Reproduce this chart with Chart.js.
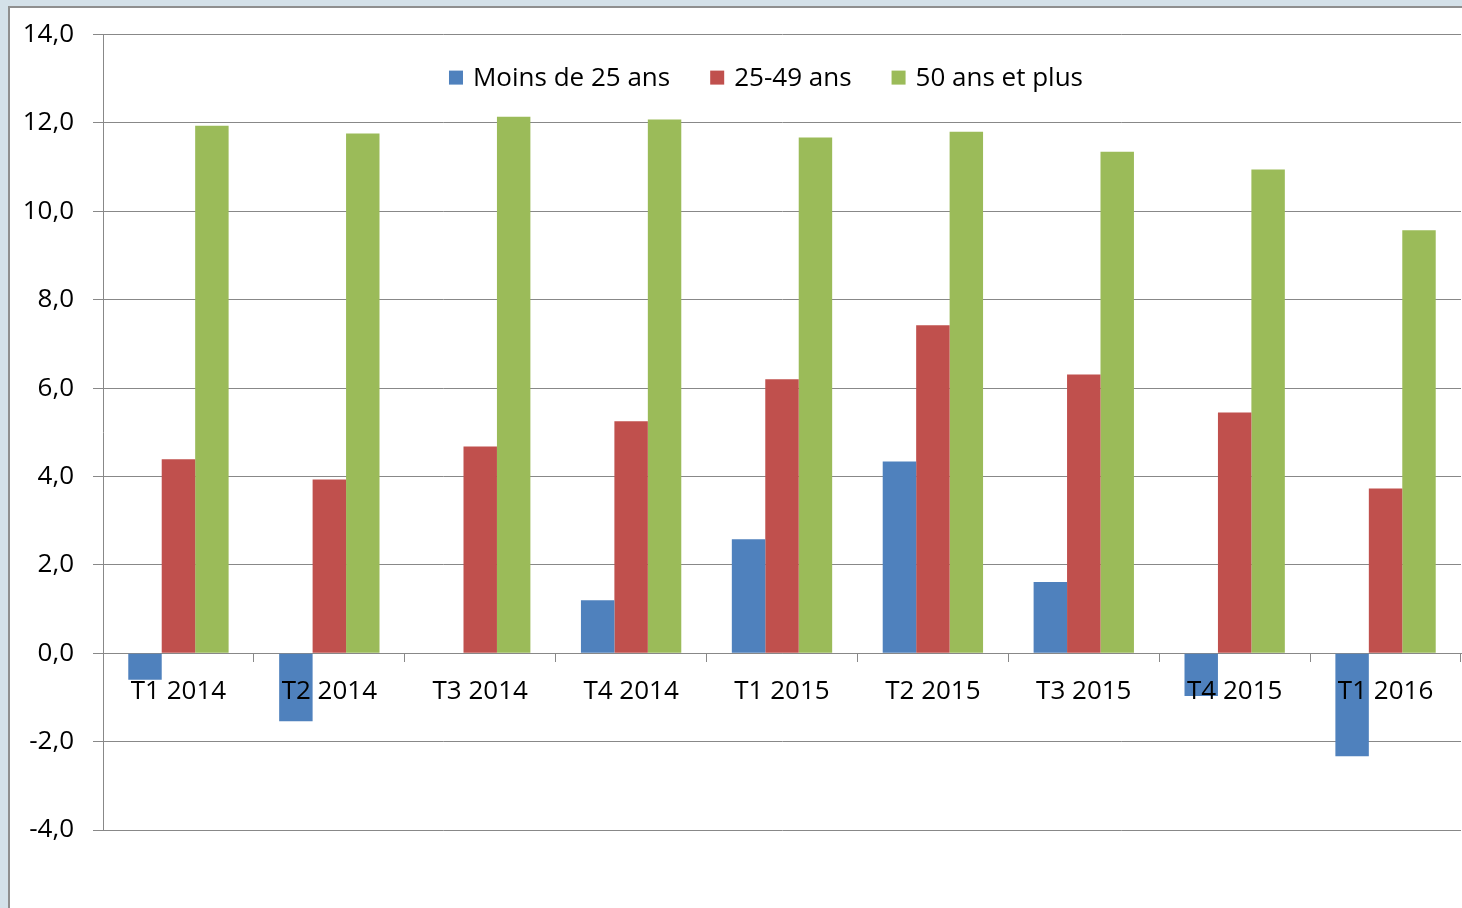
<!DOCTYPE html>
<html>
<head>
<meta charset="utf-8">
<script src="https://cdn.jsdelivr.net/npm/chart.js@4/dist/chart.umd.min.js"></script>
<style>
  html, body { margin: 0; padding: 0; }
  body { width: 1462px; height: 908px; background: #d4e1e9; overflow: hidden; position: relative; }
  #frame { position: absolute; left: 8px; top: 6px; right: 0; bottom: 0; background: #fff;
           border-left: 2px solid #8f8f8f; border-top: 2px solid #8f8f8f; }
  #chart { position: absolute; left: 0; top: 0; }
</style>
</head>
<body>
<div id="frame"></div>
<canvas id="chart" width="1462" height="908"></canvas>
<script>
// quarters (x categories)
var quarters = ['T1 2014', 'T2 2014', 'T3 2014', 'T4 2014', 'T1 2015', 'T2 2015', 'T3 2015', 'T4 2015', 'T1 2016'];

// series
var moins25 = [-0.6, -1.54, 0, 1.2, 2.58, 4.34, 1.61, -0.97, -2.33];
var de25a49 = [4.39, 3.93, 4.68, 5.25, 6.2, 7.42, 6.31, 5.45, 3.73];
var plus50 = [11.94, 11.76, 12.14, 12.08, 11.67, 11.8, 11.35, 10.95, 9.57];

var seriesNames = ['Moins de 25 ans', '25-49 ans', '50 ans et plus'];

// y axis ticks
var yMin = -4;
var yMax = 14;
var yStep = 2;

var gridColor = '#888888';
var fontFamily = '"Open Sans", "DejaVu Sans", sans-serif';

// legend drawn in a single row inside the plot area, like the Excel original
var inAreaLegend = {
  id: 'inAreaLegend',
  afterDraw: function (chart) {
    var c = chart.ctx;
    var area = chart.chartArea;
    var box = 14;
    var gap = 10;
    var spacing = 40;
    var cy = area.top + 43;
    c.save();
    c.font = '26px ' + fontFamily;
    c.textBaseline = 'middle';
    c.textAlign = 'left';
    var items = chart.data.datasets.map(function (ds) {
      return { text: ds.label, color: ds.backgroundColor, w: c.measureText(ds.label).width };
    });
    var total = 0;
    items.forEach(function (it, i) {
      total += box + gap + it.w + (i > 0 ? spacing : 0);
    });
    var x = (area.left + area.right) / 2 - 16 - total / 2;
    items.forEach(function (it) {
      c.fillStyle = it.color;
      c.fillRect(x, cy - box / 2, box, box);
      c.fillStyle = '#000';
      c.fillText(it.text, x + box + gap, cy + 1);
      x += box + gap + it.w + spacing;
    });
    c.restore();
  }
};

var ctx = document.getElementById('chart').getContext('2d');
var chart = new Chart(ctx, {
  type: 'bar',
  data: {
    labels: quarters,
    datasets: [
      { label: seriesNames[0], data: moins25, backgroundColor: '#4f81bd' },
      { label: seriesNames[1], data: de25a49, backgroundColor: '#c0504d' },
      { label: seriesNames[2], data: plus50, backgroundColor: '#9bbb59' },
    ],
  },
  options: {
    responsive: false,
    animation: false,
    datasets: {
      bar: {
        categoryPercentage: 0.665,
        barPercentage: 1.0,
        borderWidth: 0,
      },
    },
    layout: {
      padding: { top: 34, right: 1, bottom: 78, left: 0 },
    },
    plugins: {
      tooltip: { enabled: false },
      legend: { display: false },
    },
    scales: {
      x: {
        position: { y: 0 },
        z: 1,
        offset: true,
        grid: {
          offset: true,
          drawOnChartArea: false,
          tickLength: 8,
          color: gridColor,
        },
        border: { color: gridColor },
        ticks: {
          z: 1,
          color: '#000',
          padding: 15,
          maxRotation: 0,
          autoSkip: false,
          font: { family: fontFamily, size: 26 },
        },
        afterFit: function (scale) {
          scale.height = 0;
        },
      },
      y: {
        min: yMin,
        max: yMax,
        grid: {
          tickLength: 10,
          color: gridColor,
        },
        border: { color: gridColor },
        ticks: {
          stepSize: yStep,
          color: '#000',
          padding: 19,
          font: { family: fontFamily, size: 26 },
          callback: function (v) {
            return v.toFixed(1).replace('.', ',');
          },
        },
        afterFit: function (scale) {
          scale.width = 103;
        },
      },
    },
  },
  plugins: [inAreaLegend],
});
</script>
</body>
</html>
